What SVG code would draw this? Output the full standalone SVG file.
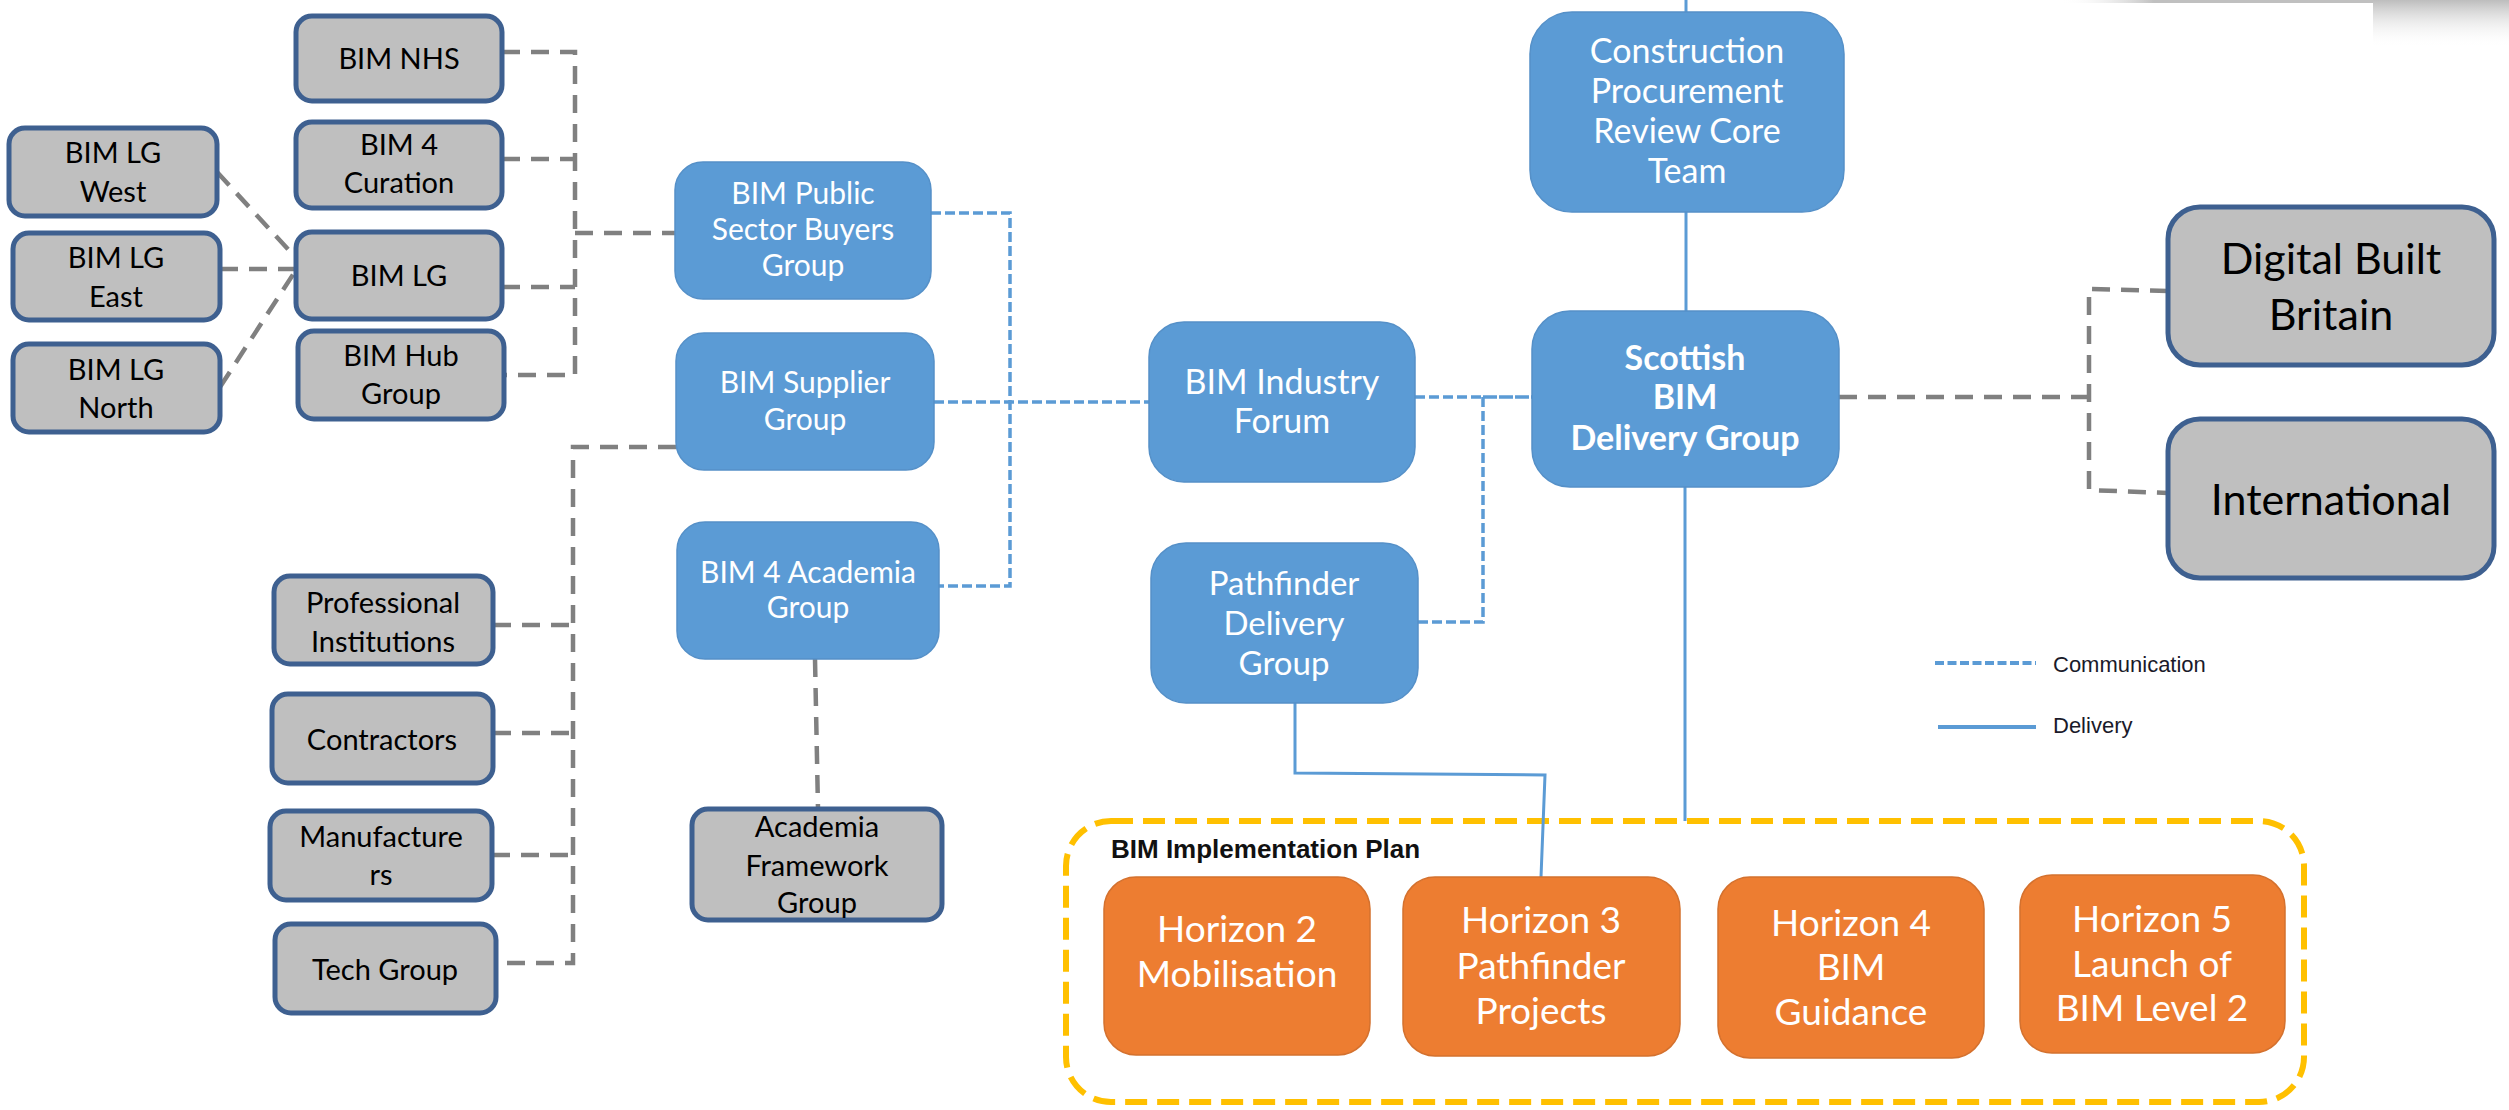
<svg xmlns="http://www.w3.org/2000/svg" width="2509" height="1110" viewBox="0 0 2509 1110">
<defs>
<linearGradient id="shadeV" x1="0" y1="0" x2="0" y2="1">
<stop offset="0" stop-color="#bdbdbd"/>
<stop offset="1" stop-color="#ffffff" stop-opacity="0"/>
</linearGradient>
<linearGradient id="shadeH" x1="0" y1="0" x2="1" y2="0">
<stop offset="0" stop-color="#ffffff" stop-opacity="0"/>
<stop offset="0.3" stop-color="#c0c0c0"/>
<stop offset="1" stop-color="#c0c0c0"/>
</linearGradient>
<style>
.g rect{fill:#bfbfbf;stroke:#3e6090;stroke-width:5}
.b rect{fill:#5b9bd5;stroke:#5590c8;stroke-width:1.5}
.o rect{fill:#ed7d31;stroke:#d4712e;stroke-width:1.5}
text{font-family:Lato,"Liberation Sans",sans-serif;text-anchor:middle}
.g text{fill:#000;font-size:29px}
.b text{fill:#fff;font-size:30px}
.o text{fill:#fff;font-size:37px}
.gd{fill:none;stroke:#808080;stroke-width:4.5;stroke-dasharray:18 11}
.bd{fill:none;stroke:#5b9bd5;stroke-width:3.5;stroke-dasharray:10 4}
.bs{fill:none;stroke:#5b9bd5;stroke-width:3}
.leg{font-family:"Liberation Sans",Arial,sans-serif;font-size:22px;fill:#1a1a2a;text-anchor:start}
</style>
</defs>
<rect width="2509" height="1110" fill="#fff"/>
<rect x="2060" y="0" width="313" height="3" fill="url(#shadeH)"/>
<rect x="2373" y="0" width="136" height="48" fill="url(#shadeV)"/>

<g id="plan">
<rect x="1066" y="821" width="1238" height="281" rx="45" fill="none" stroke="#ffc000" stroke-width="6" stroke-dasharray="22 10"/>
<text x="1111" y="858" style="font-family:'Liberation Sans',Arial,sans-serif;font-weight:bold;font-size:26px;text-anchor:start;fill:#111">BIM Implementation Plan</text>
</g>

<g id="connectors">
<path class="gd" d="M502,52 H575 V375 H504"/>
<path class="gd" d="M502,159 H575"/>
<path class="gd" d="M502,287 H575"/>
<path class="gd" d="M575,233 H675"/>
<path class="gd" d="M217,172 L296,258"/>
<path class="gd" d="M220,269 H296"/>
<path class="gd" d="M220,387 L294,273"/>
<path class="gd" d="M676,447 H573 V963 H497"/>
<path class="gd" d="M493,625 H573"/>
<path class="gd" d="M493,733 H573"/>
<path class="gd" d="M492,855 H573"/>
<path class="gd" d="M815,659 L818,809"/>
<path class="gd" d="M1839,397 H2089"/>
<path class="gd" d="M2168,291 L2089,289 V490 L2168,493"/>
<path class="bd" d="M931,213 H1010 V586 H939"/>
<path class="bd" d="M934,402 H1149"/>
<path class="bd" d="M1415,397 H1483"/>
<path class="bd" d="M1483,397 H1532" style="stroke-dasharray:14 2"/>
<path class="bd" d="M1483,397 V622 H1418"/>
<path class="bs" d="M1686,0 V12"/>
<path class="bs" d="M1686,212 V311"/>
<path class="bs" d="M1685,487 V821"/>
<path class="bs" d="M1295,703 V773 L1545,775 L1541,877"/>
</g>

<g id="legend">
<path d="M1935,663 H2036" fill="none" stroke="#5b9bd5" stroke-width="4" stroke-dasharray="9 3.5"/>
<path d="M1938,727 H2036" fill="none" stroke="#5b9bd5" stroke-width="4"/>
<text class="leg" x="2053" y="672">Communication</text>
<text class="leg" x="2053" y="733">Delivery</text>
</g>

<g id="bim-nhs" class="g"><rect x="296" y="16" width="206" height="85" rx="16"/><text x="399" y="69">BIM NHS</text></g>
<g id="bim-4-curation" class="g"><rect x="296" y="122" width="206" height="86" rx="16"/><text x="399" y="155">BIM 4</text><text x="399" y="193">Curation</text></g>
<g id="bim-lg" class="g"><rect x="296" y="232" width="206" height="87" rx="16"/><text x="399" y="286">BIM LG</text></g>
<g id="bim-hub-group" class="g"><rect x="298" y="331" width="206" height="88" rx="16"/><text x="401" y="366">BIM Hub</text><text x="401" y="404">Group</text></g>
<g id="bim-lg-west" class="g"><rect x="9" y="128" width="208" height="88" rx="16"/><text x="113" y="163">BIM LG</text><text x="113" y="202">West</text></g>
<g id="bim-lg-east" class="g"><rect x="13" y="233" width="207" height="87" rx="16"/><text x="116" y="268">BIM LG</text><text x="116" y="307">East</text></g>
<g id="bim-lg-north" class="g"><rect x="13" y="344" width="207" height="88" rx="16"/><text x="116" y="380">BIM LG</text><text x="116" y="418">North</text></g>
<g id="professional-institutions" class="g"><rect x="274" y="576" width="219" height="88" rx="16"/><text x="383" y="613">Professional</text><text x="383" y="652">Institutions</text></g>
<g id="contractors" class="g"><rect x="272" y="694" width="221" height="89" rx="16"/><text x="382" y="750">Contractors</text></g>
<g id="manufacturers" class="g"><rect x="270" y="811" width="222" height="89" rx="16"/><text x="381" y="847">Manufacture</text><text x="381" y="885">rs</text></g>
<g id="tech-group" class="g"><rect x="275" y="924" width="221" height="89" rx="16"/><text x="385" y="980">Tech Group</text></g>
<g id="academia-framework-group" class="g"><rect x="692" y="809" width="250" height="111" rx="16"/><text x="817" y="837">Academia</text><text x="817" y="876">Framework</text><text x="817" y="913">Group</text></g>
<g id="digital-built-britain" class="g"><rect x="2168" y="207" width="326" height="158" rx="32"/><text x="2331" y="274" style="font-size:43px">Digital Built</text><text x="2331" y="330" style="font-size:43px">Britain</text></g>
<g id="international" class="g"><rect x="2168" y="419" width="326" height="159" rx="32"/><text x="2331" y="515" style="font-size:43px">International</text></g>

<g id="bim-public-sector-buyers" class="b"><rect x="675" y="162" width="256" height="137" rx="28"/><text x="803" y="204">BIM Public</text><text x="803" y="240">Sector Buyers</text><text x="803" y="276">Group</text></g>
<g id="bim-supplier-group" class="b"><rect x="676" y="333" width="258" height="137" rx="28"/><text x="805" y="393">BIM Supplier</text><text x="805" y="430">Group</text></g>
<g id="bim-4-academia-group" class="b"><rect x="677" y="522" width="262" height="137" rx="28"/><text x="808" y="583">BIM 4 Academia</text><text x="808" y="618">Group</text></g>
<g id="bim-industry-forum" class="b"><rect x="1149" y="322" width="266" height="160" rx="35"/><text x="1282" y="394" style="font-size:34px">BIM Industry</text><text x="1282" y="433" style="font-size:34px">Forum</text></g>
<g id="pathfinder-delivery-group" class="b"><rect x="1151" y="543" width="267" height="160" rx="35"/><text x="1284" y="595" style="font-size:33px">Pathfinder</text><text x="1284" y="635" style="font-size:33px">Delivery</text><text x="1284" y="675" style="font-size:33px">Group</text></g>
<g id="construction-procurement-review" class="b"><rect x="1530" y="12" width="314" height="200" rx="42"/><text x="1687" y="63" style="font-size:34px">Construction</text><text x="1687" y="103" style="font-size:34px">Procurement</text><text x="1687" y="143" style="font-size:34px">Review Core</text><text x="1687" y="183" style="font-size:34px">Team</text></g>
<g id="scottish-bim-delivery-group" class="b"><rect x="1532" y="311" width="307" height="176" rx="38"/><text x="1685" y="370" style="font-size:34px;font-weight:bold">Scottish</text><text x="1685" y="409" style="font-size:34px;font-weight:bold">BIM</text><text x="1685" y="450" style="font-size:34px;font-weight:bold">Delivery Group</text></g>

<g id="horizon-2" class="o"><rect x="1104" y="877" width="266" height="178" rx="32"/><text x="1237" y="942">Horizon 2</text><text x="1237" y="987">Mobilisation</text></g>
<g id="horizon-3" class="o"><rect x="1403" y="877" width="277" height="179" rx="32"/><text x="1541" y="933">Horizon 3</text><text x="1541" y="979">Pathfinder</text><text x="1541" y="1024">Projects</text></g>
<g id="horizon-4" class="o"><rect x="1718" y="877" width="266" height="181" rx="32"/><text x="1851" y="936">Horizon 4</text><text x="1851" y="980">BIM</text><text x="1851" y="1025">Guidance</text></g>
<g id="horizon-5" class="o"><rect x="2020" y="875" width="265" height="178" rx="32"/><text x="2152" y="932">Horizon 5</text><text x="2152" y="977">Launch of</text><text x="2152" y="1021">BIM Level 2</text></g>
</svg>
